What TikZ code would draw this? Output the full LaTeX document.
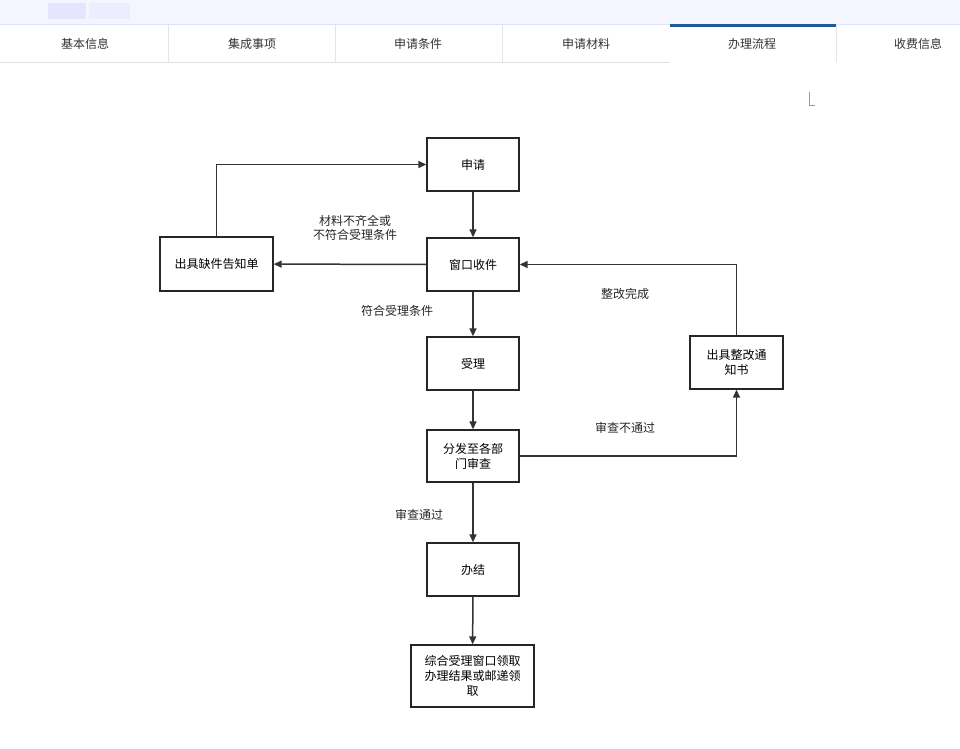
\documentclass[tikz,border=0pt]{standalone}
\usepackage{fontspec}
\setmainfont{Noto Sans CJK SC}
\usetikzlibrary{arrows.meta}
\definecolor{tabblue}{HTML}{1F5A96}
\begin{document}
\begin{tikzpicture}[x=1pt,y=-1pt,
  box/.style={draw=black!85,line width=1.4pt,inner sep=0pt,align=center,font=\fontsize{12}{15}\selectfont},
  tab/.style={font=\fontsize{12}{14}\selectfont,text=black!80},
  lbl/.style={font=\fontsize{12}{14}\selectfont,align=center,text=black!85},
  arr/.style={draw=black!80,line width=1.5pt,-{Triangle[length=8pt,width=7pt]}}]
\useasboundingbox (0,0) rectangle (960,748);
\fill[white] (0,0) rectangle (960,748);
\fill[blue!4] (0,0) rectangle (960,24);
\fill[blue!10] (48,3) rectangle (86,19);
\fill[blue!7] (89,3) rectangle (130,19);
\draw[blue!12] (0,24) -- (960,24);
\draw[black!12] (0,62) -- (670,62);
\foreach \x in {168,335,502,836} \draw[black!10] (\x,25) -- (\x,62);
\fill[tabblue] (670,24) rectangle (836,27);
\node[tab] (t1) at (85,44) {基本信息};
\node[tab] (t2) at (252,44) {集成事项};
\node[tab] (t3) at (418,44) {申请条件};
\node[tab] (t4) at (586,44) {申请材料};
\node[tab] (t5) at (752,44) {办理流程};
\node[tab] (t6) at (918,44) {收费信息};
\draw[black!40] (809,92) -- (809,105) -- (815,105);

\node[box,minimum width=92pt,minimum height=53pt] (sq) at (473,164.5) {申请};
\node[box,minimum width=92pt,minimum height=53pt] (ck) at (473,264.5) {窗口收件};
\node[box,minimum width=113pt,minimum height=54pt] (qj) at (216.5,264) {出具缺件告知单};
\node[box,minimum width=92pt,minimum height=53pt] (sl) at (473,363.5) {受理};
\node[box,minimum width=92pt,minimum height=52pt] (ff) at (473,456) {分发至各部\\门审查};
\node[box,minimum width=92pt,minimum height=53pt] (bj) at (473,569.5) {办结};
\node[box,minimum width=123pt,minimum height=62pt] (zh) at (472.5,676) {综合受理窗口领取\\办理结果或邮递领\\取};
\node[box,minimum width=93pt,minimum height=53pt] (zg) at (736.5,362.5) {出具整改通\\知书};

\draw[arr] (sq) -- (ck);
\draw[arr] (ck) -- (qj);
\draw[arr] (qj.north) |- (sq.west);
\draw[arr] (ck) -- (sl);
\draw[arr] (sl) -- (ff);
\draw[arr] (ff) -- (bj);
\draw[arr] (bj) -- (zh);
\draw[arr] (ff.east) -| (zg.south);
\draw[arr] (zg.north) |- (ck.east);

\node[lbl] (l1) at (355,228) {材料不齐全或\\不符合受理条件};
\node[lbl] (l2) at (397,311) {符合受理条件};
\node[lbl] (l3) at (625,428) {审查不通过};
\node[lbl] (l4) at (625,294) {整改完成};
\node[lbl] (l5) at (419,515) {审查通过};
\end{tikzpicture}
\end{document}
